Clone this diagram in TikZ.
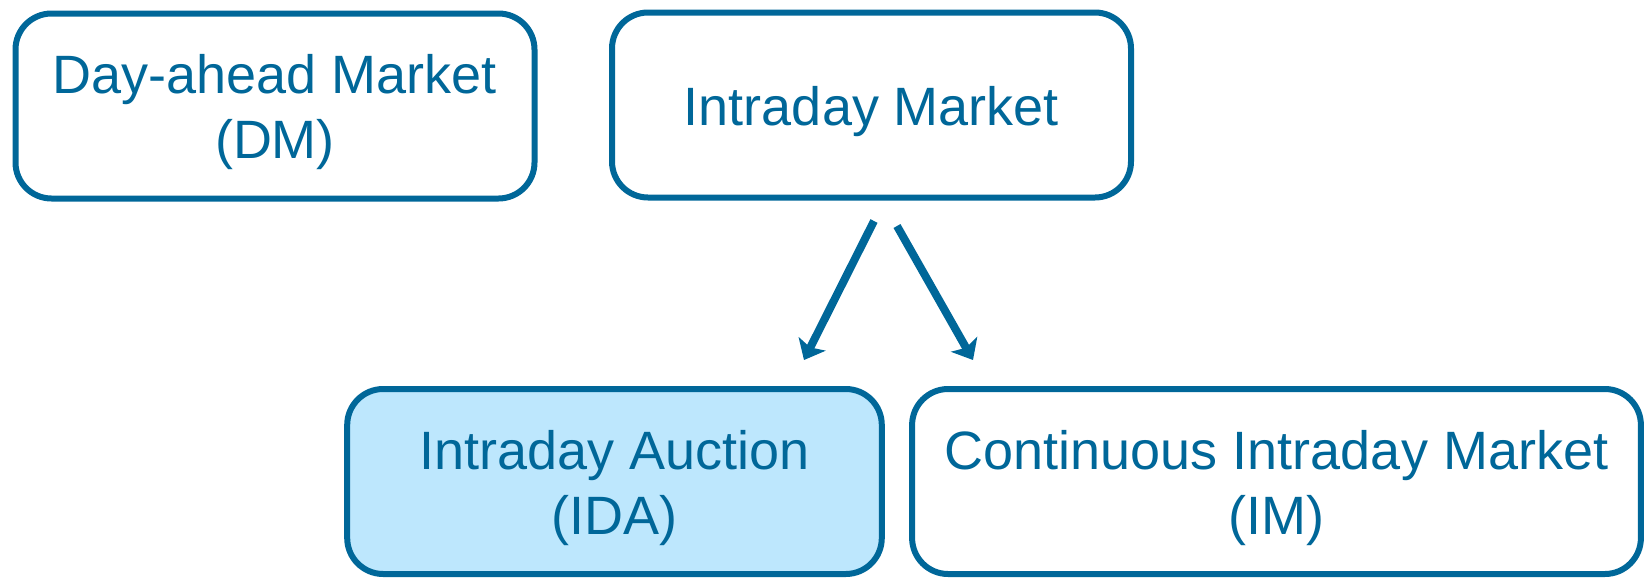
\documentclass[tikz,border=0pt]{standalone}
\usepackage{fontspec}
\setmainfont{Liberation Sans}
\usetikzlibrary{arrows.meta}

\begin{document}
\begin{tikzpicture}[x=0.5pt, y=-0.5pt, >={Stealth[length=9pt, width=15pt, inset=2pt]}, semithick]
%====Colori===============================================================
	\definecolor{marketblue}{RGB}{0,103,153}
	\definecolor{auctionblue}{RGB}{189,231,253}
%====Stile box e frecce===============================================================
	\tikzstyle{market}=[rectangle, rounded corners=18pt, draw=marketblue, line width=3pt, text=marketblue, font=\fontsize{27}{32.5}\selectfont, align=center, text height=26pt, minimum height=92.5pt, inner sep=0pt]
	\tikzstyle{twolines}=[text height=58.5pt]
	\tikzstyle{auction}=[market, fill=auctionblue]
	\tikzstyle{link}=[->, draw=marketblue, fill=marketblue, line width=4pt]
	\useasboundingbox (0,0) rectangle (1646,580);
%====Box e posizione===============================================================
	\node[market, twolines, minimum width=259.5pt]	(DM)	at (275,106)		{Day-ahead Market\\(DM)};
	\node[market, minimum width=259.5pt]				(IM)	at (871.5,105)		{Intraday Market};
	\node[auction, twolines, minimum width=267.3pt]	(IDA)	at (614.5,481.5)	{Intraday Auction\\(IDA)};
	\node[market, twolines, minimum width=364.4pt]	(CIM)	at (1276.5,481.5)	{Continuous Intraday Market\\(IM)};
%====Frecce===============================================================
	\draw[link]	([shift={(2.5,20.5)}]IM.south)		--	([shift={(189.5,-26)}]IDA.north);
	\draw[link]	([shift={(25.5,25.5)}]IM.south)	--	([shift={(-303.5,-26)}]CIM.north);
\end{tikzpicture}
\end{document}
